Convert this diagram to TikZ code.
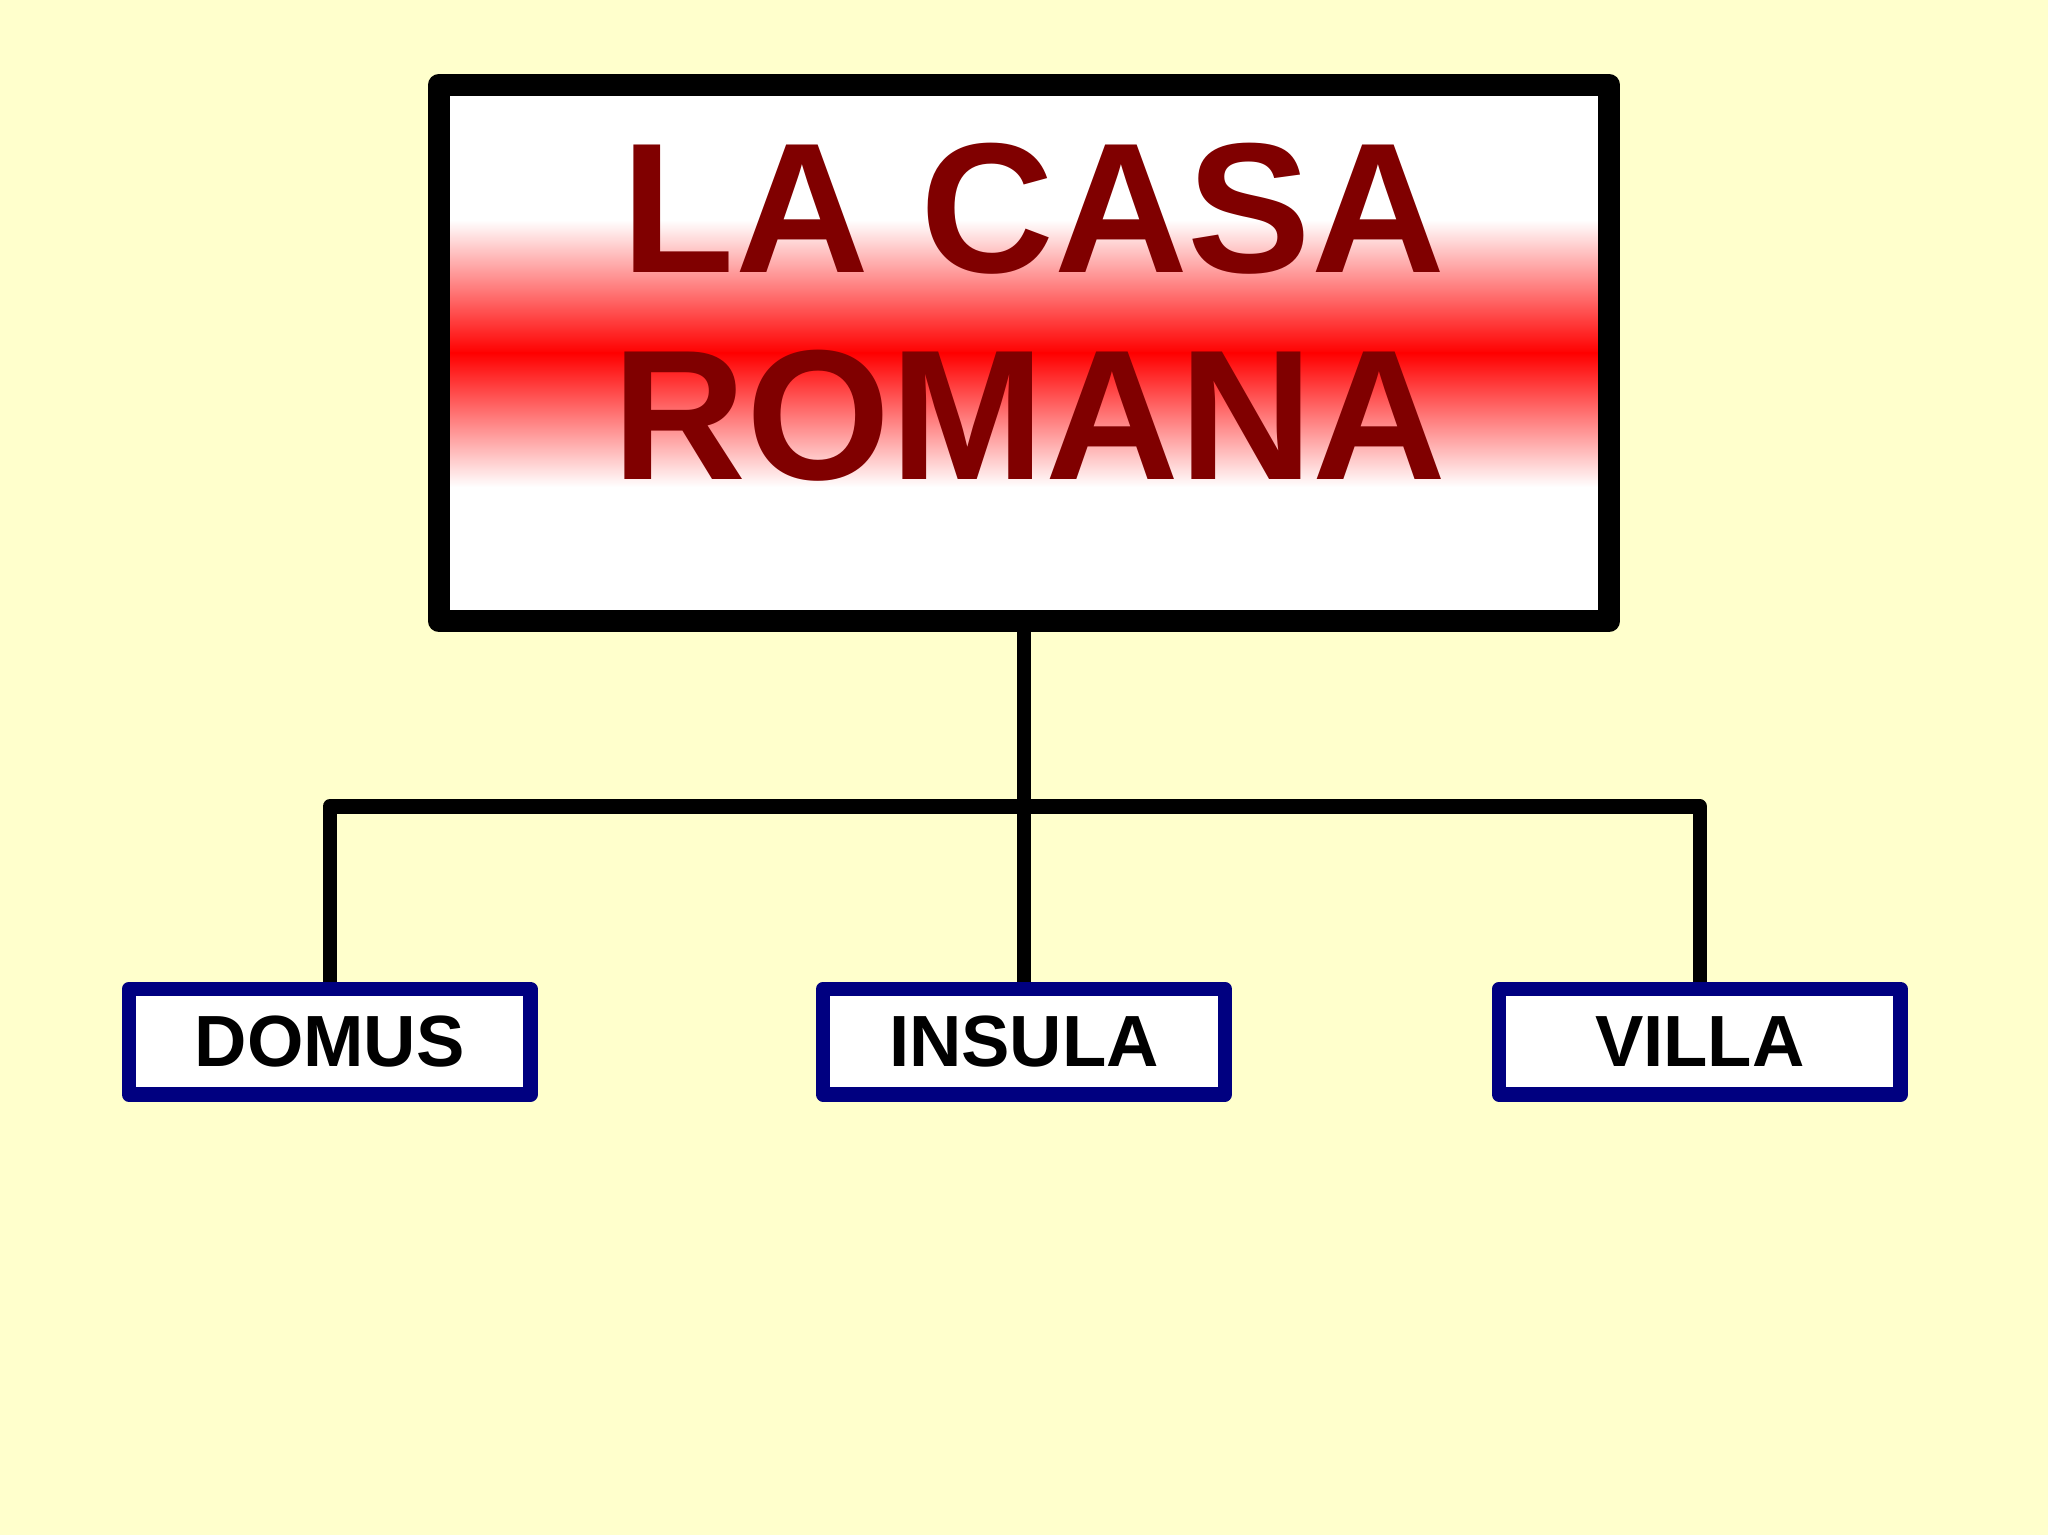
\documentclass[tikz,border=0pt]{standalone}
\usepackage{fontspec}
\setmainfont{Liberation Sans}
\usetikzlibrary{positioning,calc}
\definecolor{sfondo}{HTML}{FFFFCC}
\definecolor{rossoscuro}{HTML}{800000}
\definecolor{blunavy}{HTML}{000080}

\begin{document}
\begin{tikzpicture}[x=0.375pt,y=-0.375pt,font=\bfseries,
  titolo/.style={rectangle,draw=black,line width=8.25pt,line join=round,minimum width=439pt,minimum height=201pt,inner sep=0pt},
  scritta/.style={anchor=base,inner sep=0pt,text=rossoscuro,font=\bfseries\fontsize{69.5}{78}\selectfont},
  tipo/.style={rectangle,draw=blunavy,line width=5.4pt,line join=round,fill=white,minimum width=150.6pt,minimum height=39.6pt,inner sep=0pt,font=\bfseries\fontsize{27.2}{30}\selectfont},
  conn/.style={line width=5.4pt,black,line join=round}]
\fill[sfondo](0,0) rectangle (2048,1535);
\useasboundingbox(0,0) rectangle (2048,1535);
% fondo bianco e fascia rossa sfumata
\fill[white](439,85) rectangle (1609,621);
\shade[top color=white,bottom color=red](439,220) rectangle (1609,353);
\shade[top color=red,bottom color=white](439,353) rectangle (1609,487);
\node[titolo](casa) at (1024,353){};
\node[scritta](riga1) at (1033.7,273){LA CASA};
\node[scritta](riga2) at (1029.8,480){ROMANA};
\node[tipo](domus) at (329.7,1041.75){DOMUS};
\node[tipo](insula) at (1024,1041.75){INSULA};
\node[tipo](villa) at (1699.8,1041.75){VILLA};
\coordinate(bus) at (1024,806.5);
\draw[conn](casa.south)--(insula.north);
\draw[conn](domus.north)--(domus.north|-bus)--(villa.north|-bus)--(villa.north);
\end{tikzpicture}
\end{document}
